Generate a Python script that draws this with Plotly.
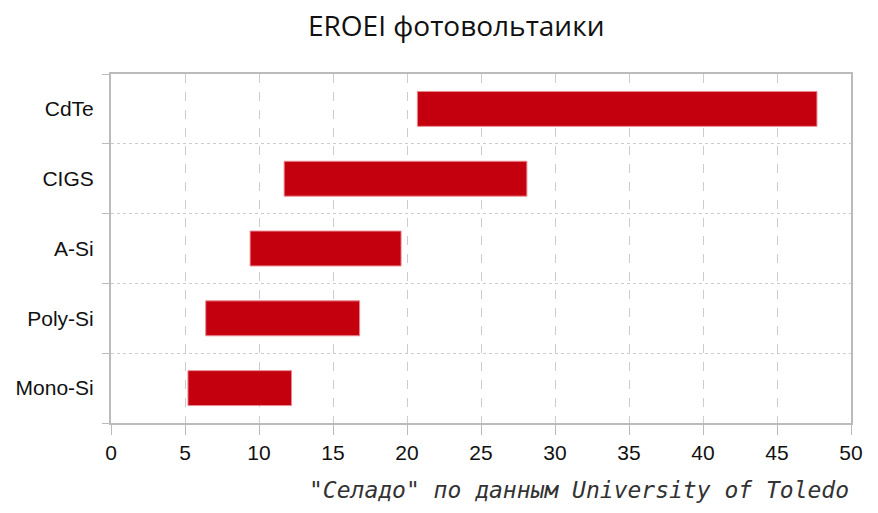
import plotly.graph_objects as go

categories = ["Mono-Si", "Poly-Si", "A-Si", "CIGS", "CdTe"]
eroei_min = [5.2, 6.4, 9.4, 11.7, 20.7]
eroei_max = [12.2, 16.8, 19.6, 28.1, 47.7]
x_ticks = [0, 5, 10, 15, 20, 25, 30, 35, 40, 45, 50]
title_text = "EROEI фотовольтаики"
source_text = "\"Селадо\" по данным University of Toledo"

widths = [b - a for a, b in zip(eroei_min, eroei_max)]

fig = go.Figure(go.Bar(
    y=categories, x=widths, base=eroei_min, orientation="h",
    width=0.5,
    marker=dict(color="#C4000E", line=dict(color="#E88890", width=1)),
    hoverinfo="skip",
))

fig.update_layout(
    width=878, height=513,
    margin=dict(l=103, r=35, t=66, b=98),
    paper_bgcolor="white", plot_bgcolor="white",
    showlegend=False,
    font=dict(family="Liberation Sans", size=21, color="#111111"),
)
fig.update_xaxes(
    range=[0, 50], tickvals=x_ticks, ticks="outside", ticklen=10, tickcolor="#bbbbbb",
    showline=True, linecolor="#bbbbbb", linewidth=2, mirror=True, automargin=False,
    showgrid=True, gridcolor="#cccccc", griddash="dash", gridwidth=1, zeroline=False,
    tickfont=dict(family="Liberation Sans", size=21, color="#111111"),
)
fig.update_yaxes(
    type="category", categoryorder="array", categoryarray=categories,
    range=[-0.5, 4.5], tickson="boundaries", ticks="outside", ticklen=7, tickcolor="#bbbbbb",
    showline=True, linecolor="#bbbbbb", linewidth=2, mirror=True, automargin=False,
    showgrid=True, gridcolor="#cccccc", griddash="dot", gridwidth=1,
    tickfont=dict(family="Liberation Sans", size=21, color="#111111"),
    ticklabelstandoff=11,
)
fig.add_annotation(
    text=title_text,
    xref="paper", yref="paper", x=(448 - 103) / 740, y=1 + (66 - 17) / 349,
    xanchor="center", yanchor="middle",
    showarrow=False, font=dict(family="Open Sans", size=28, color="#111111"),
)
fig.add_annotation(
    text="<i>" + source_text + "</i>",
    xref="paper", yref="paper", x=1.0, y=-(482 - 415) / 349, xanchor="right", yanchor="middle",
    showarrow=False, font=dict(family="DejaVu Sans Mono", size=23, color="#333333"),
)
fig.write_html("out.html")
